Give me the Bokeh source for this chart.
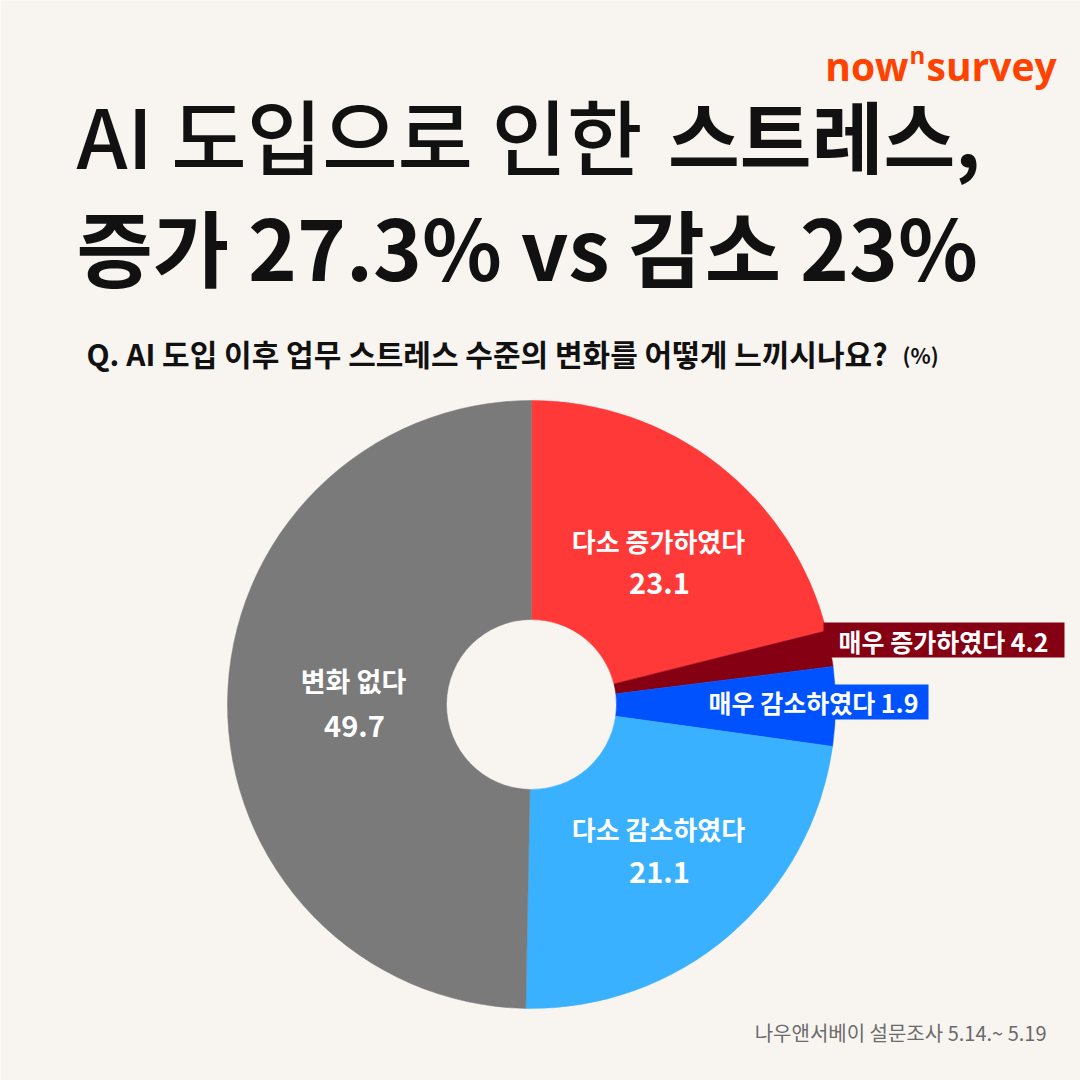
from bokeh.plotting import figure
from bokeh.models import Range1d, ColumnDataSource
from bokeh.core.properties import value
from bokeh.embed import file_html
from bokeh.resources import INLINE
import math

# ---------------- data ----------------
categories = ["다소 증가하였다", "매우 증가하였다", "매우 감소하였다", "다소 감소하였다", "변화 없다"]
label_values = [23.1, 4.2, 1.9, 21.1, 49.7]
# angular shares of the wedges as drawn in the picture (clockwise from 12 o'clock)
slice_shares = [21.1, 1.9, 4.2, 23.1, 49.7]
slice_colors = ["#ff3838", "#850012", "#0052ff", "#3ab1ff", "#7a7a7a"]

title_line1a = "AI 도입으로 인한"
title_line1b = "스트레스,"
title_line2 = "증가 27.3% vs  감소 23%"
question = "Q. AI 도입 이후 업무 스트레스 수준의 변화를 어떻게 느끼시나요?"
unit = "(%)"
source_note = "나우앤서베이 설문조사 5.14.~ 5.19"

BG = "#f8f5f0"
KR = "Noto Sans CJK KR"

W = 1080
p = figure(width=W, height=W, output_backend="svg", toolbar_location=None,
           x_range=Range1d(0, 1080), y_range=Range1d(0, 1080), min_border=0)
p.axis.visible = False
p.grid.visible = False
p.outline_line_color = None
p.background_fill_color = BG
p.border_fill_color = BG


def Y(py):
    return 1080 - py


# ---------------- donut ----------------
cx, cy = 531, Y(704)
total = sum(slice_shares)
starts, ends = [], []
acc = 0.0
for s in slice_shares:
    starts.append(math.pi / 2 - 2 * math.pi * acc / total)
    acc += s
    ends.append(math.pi / 2 - 2 * math.pi * acc / total)

src = ColumnDataSource(dict(x=[cx] * len(slice_shares), y=[cy] * len(slice_shares),
                            start=starts, end=ends, color=slice_colors))
p.annular_wedge(x="x", y="y", inner_radius=85, outer_radius=304,
                start_angle="start", end_angle="end", direction="clock",
                fill_color="color", line_color="color", line_width=0.5, source=src)

# ---------------- labels inside slices ----------------
def txt(x, y, t, size, color="white", font=KR, style="bold", align="center", baseline="middle"):
    p.text(x=[x], y=[Y(y)], text=[t], text_font=value(font), text_font_size=f"{size}px",
           text_font_style=style, text_color=color, text_align=align, text_baseline=baseline)

txt(658, 540, categories[0], 26)
txt(659, 582, f"{label_values[0]}", 29)
txt(353, 680, categories[4], 27)
txt(354, 725, f"{label_values[4]}", 29)
txt(658, 828, categories[3], 26)
txt(659, 871, f"{label_values[3]}", 29)

# boxed small labels
p.quad(left=[823], right=[1064], top=[Y(622)], bottom=[Y(657)], fill_color=slice_colors[1], line_color=None)
txt(943, 640, f"{categories[1]} {label_values[1]}", 25)
p.quad(left=[697], right=[928], top=[Y(684)], bottom=[Y(719)], fill_color=slice_colors[2], line_color=None)
txt(813, 701, f"{categories[2]} {label_values[2]}", 25)

# ---------------- titles ----------------
txt(76, 133, title_line1a, 82, color="#111111", font="Noto Sans CJK KR Medium, Noto Sans CJK KR",
    style="normal", align="left")
txt(980, 133, title_line1b, 78, color="#111111", align="right")
txt(76, 244, title_line2, 83, color="#111111", align="left")

txt(86, 352, question, 30, color="#111111", align="left")
txt(902, 354, unit, 21, color="#111111", align="left")

# logo
LOGO = "#ff4200"
txt(908, 65, "now", 39, color=LOGO, font="Open Sans", align="right", baseline="alphabetic")
txt(917, 54, "n", 24, color=LOGO, font="Open Sans", align="center", baseline="alphabetic")
txt(926, 65, "survey", 39, color=LOGO, font="Open Sans", align="left", baseline="alphabetic")

# source
txt(1046, 1032, source_note, 20, color="#6b6b6b", style="normal", align="right")

open("out.html", "w").write(file_html(p, INLINE))
